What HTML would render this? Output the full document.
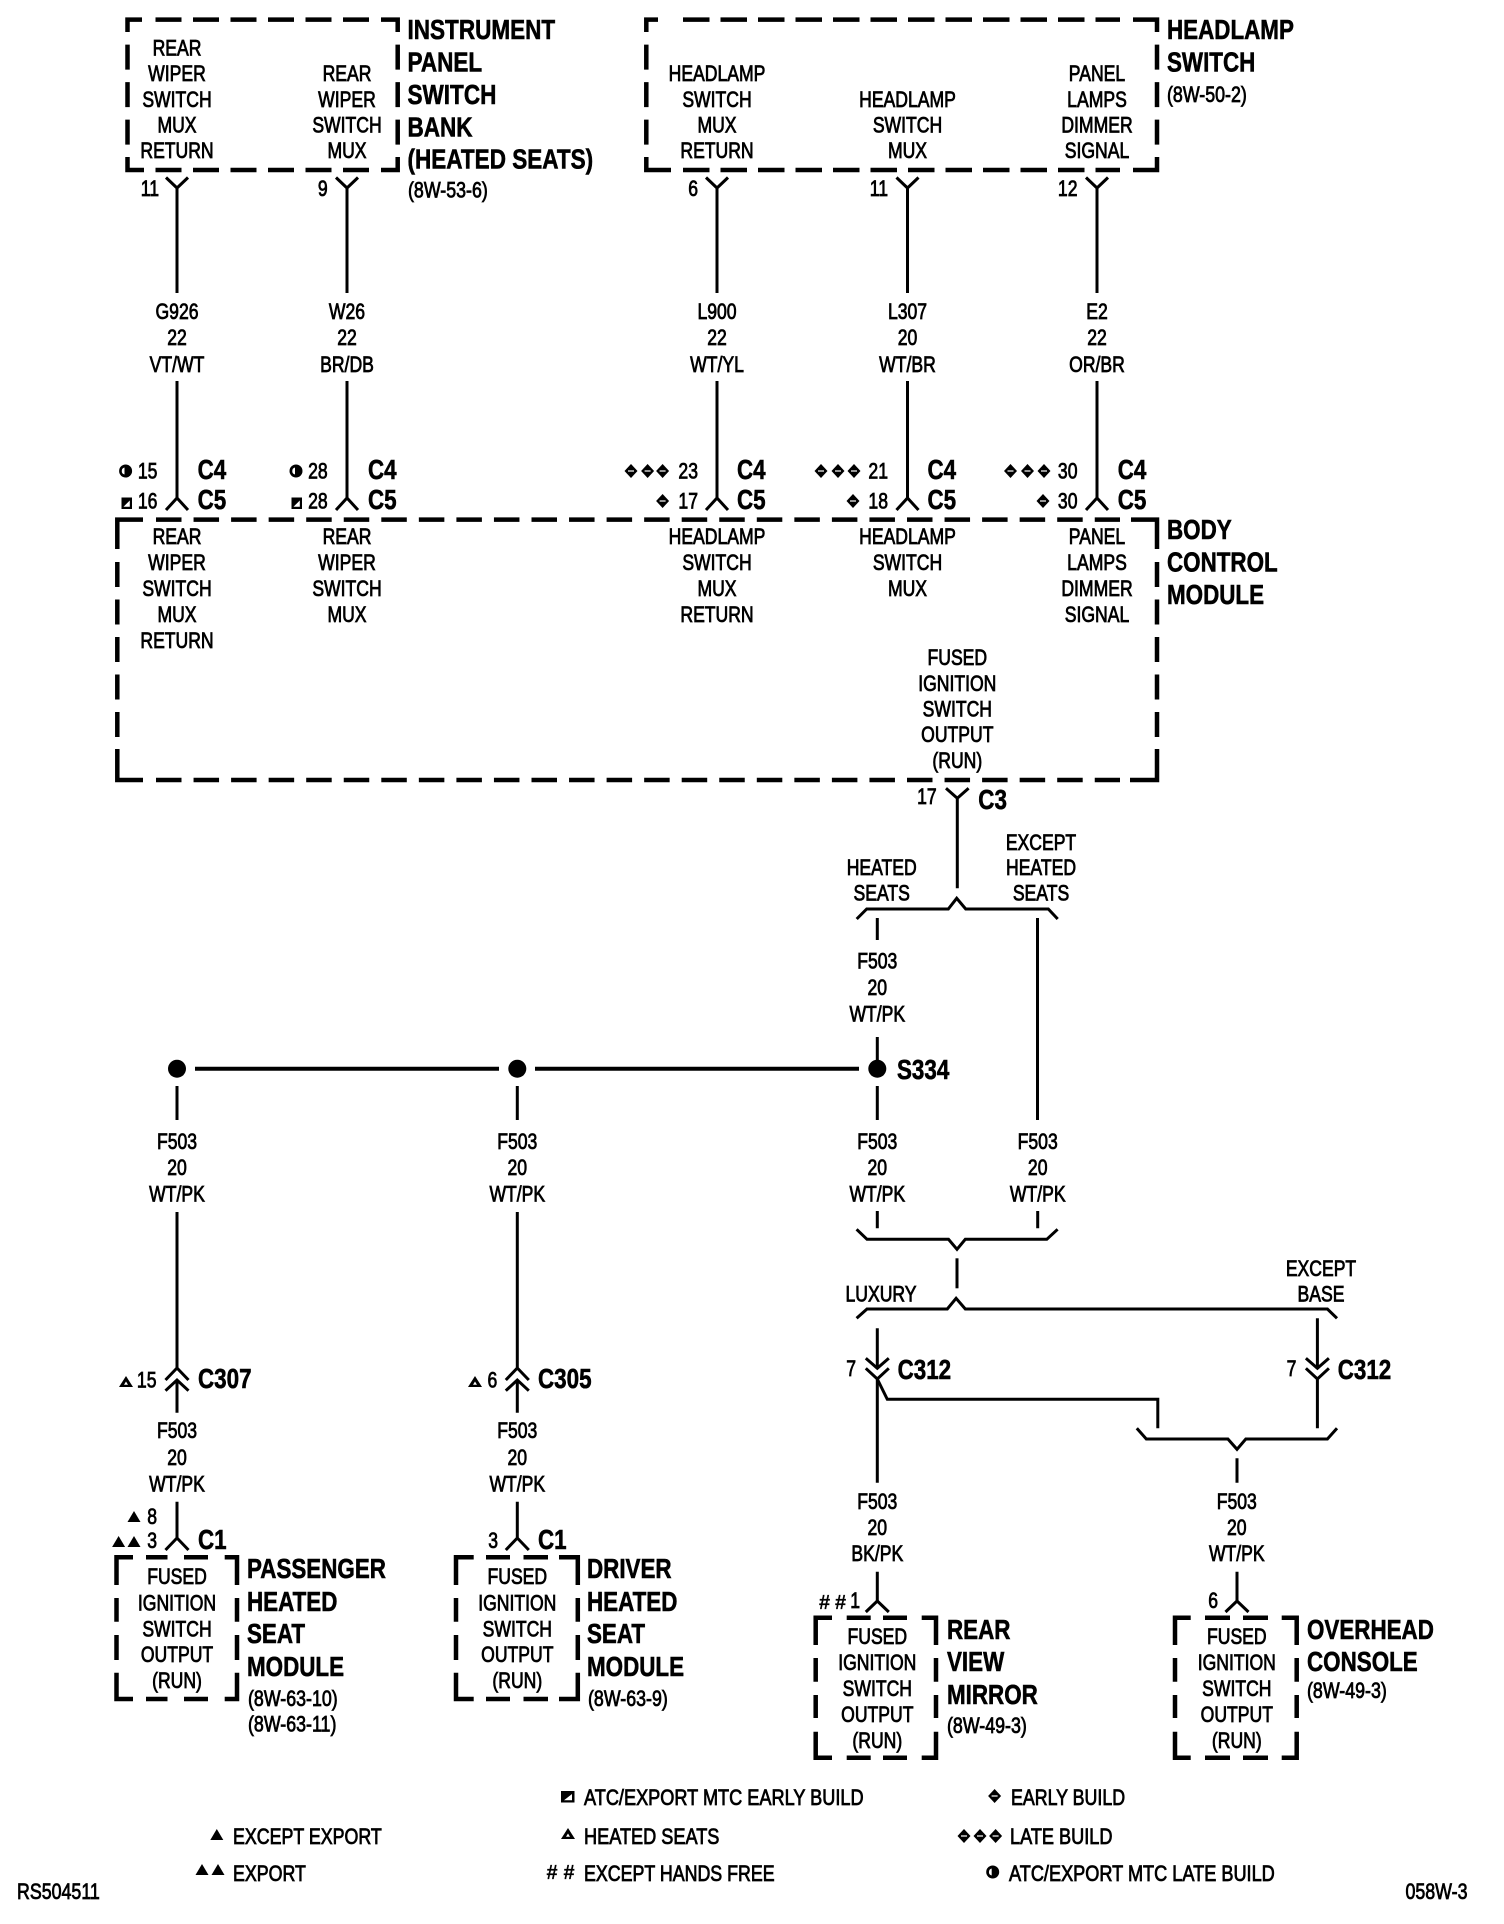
<!DOCTYPE html>
<html><head><meta charset="utf-8"><style>
html,body{margin:0;padding:0;background:#fff}
svg{display:block}
text{font-family:"Liberation Sans",Arial,sans-serif;font-size:22px;fill:#000;stroke:#000;stroke-width:.8}
.b text,text.b{font-size:28px;font-weight:bold;stroke-width:.6}
.m{text-anchor:middle}
.e{text-anchor:end}
.w{fill:none;stroke:#000;stroke-width:3;stroke-linejoin:miter}
.d{fill:none;stroke:#000;stroke-width:4.5}
.f{fill:#000}
.h{fill:#fff}
</style></head><body>
<svg width="1504" height="1924" viewBox="0 0 1504 1924" xmlns="http://www.w3.org/2000/svg">
<rect width="1504" height="1924" fill="#fff"/>

<!-- dashed boxes -->
<g class="d">
<!-- Box 1 -->
<path d="M127.5 32V19.6H142M381 19.6H397.7V32M127.5 157V170H144M381 170H397.7V157"/>
<path d="M155.5 19.6H370" stroke-dasharray="26 11.5"/>
<path d="M155.5 170H370" stroke-dasharray="26 11.5"/>
<path d="M127.5 44.6V150" stroke-dasharray="25 12.5"/>
<path d="M397.7 44.6V150" stroke-dasharray="25 12.5"/>
<!-- Box 2 -->
<path d="M646.3 32V19.6H658M1133 19.6H1157V32M646.3 157V170H671M1133 170H1157V157"/>
<path d="M683 19.6H1120" stroke-dasharray="26.5 11"/>
<path d="M683 170H1120" stroke-dasharray="26.5 11"/>
<path d="M646.3 44.6V150" stroke-dasharray="25 12.5"/>
<path d="M1157 44.6V150" stroke-dasharray="25 12.5"/>
<!-- BCM -->
<path d="M117.3 549V519.6H143M1131 519.6H1157V549M117.3 749V780H143M1130 780H1157V749"/>
<path d="M156 519.6H1120" stroke-dasharray="25.5 12.05"/>
<path d="M156 780H1120" stroke-dasharray="25.5 12.05"/>
<path d="M117.3 562V740" stroke-dasharray="25 12.5"/>
<path d="M1157 562V740" stroke-dasharray="25 12.5"/>
<!-- Passenger -->
<path d="M116.5 1585V1557.3H133M146 1557.3H167.5M184 1557.3H208M224.7 1557.3H237V1585M116.5 1598V1621.7M116.5 1635V1660M116.5 1672.7V1699H133M146 1699H167.5M184 1699H208M224.7 1699H237V1672.7M237 1598V1621.7M237 1635V1660"/>
<!-- Driver -->
<path d="M456 1585V1557.3H473.7M486 1557.3H510M523.5 1557.3H548M559 1557.3H577.8V1585M456 1598V1621.7M456 1635V1660M456 1672.7V1699H473.7M486 1699H510M523.5 1699H548M559 1699H577.8V1672.7M577.8 1598V1621.7M577.8 1635V1660"/>
<!-- Rear view mirror -->
<path d="M815.7 1645V1617.7H832M846.7 1617.7H870.7M883 1617.7H907M921.7 1617.7H936V1645M815.7 1658V1681.7M815.7 1695V1718M815.7 1731.7V1757.7H832M846.7 1757.7H870.7M883 1757.7H907M921.7 1757.7H936V1731.7M936 1658V1681.7M936 1695V1718"/>
<!-- Overhead -->
<path d="M1175 1645V1617.7H1190.7M1205 1617.7H1230M1243 1617.7H1268M1281.7 1617.7H1296.7V1645M1175 1658V1681.7M1175 1695V1718M1175 1731.7V1757.7H1190.7M1205 1757.7H1230M1243 1757.7H1268M1281.7 1757.7H1296.7V1731.7M1296.7 1658V1681.7M1296.7 1695V1718"/>
</g>

<!-- Wires top -->
<g class="w">
<path d="M166 177.5L177 188L188 177.5M177 188V293M177 381V498M166 510L177 498L188 510"/>
<path d="M336 177.5L347 188L358 177.5M347 188V293M347 381V498M336 510L347 498L358 510"/>
<path d="M706 177.5L717 188L728 177.5M717 188V293M717 381V498M706 510L717 498L728 510"/>
<path d="M896.5 177.5L907.5 188L918.5 177.5M907.5 188V293M907.5 381V498M896.5 510L907.5 498L918.5 510"/>
<path d="M1086 177.5L1097 188L1108 177.5M1097 188V293M1097 381V498M1086 510L1097 498L1108 510"/>
<!-- C3 -->
<path d="M946 788.3L957.3 798.3L968.6 788.3M957.3 798.3V888.3"/>
<path d="M856.7 919L866.7 909H948.3L956.7 898.3L965.7 909H1048.3L1057.7 919"/>
<path d="M877.3 918V940M877.3 1037V1060M877.3 1086V1120M1037.5 918V1120"/>
<!-- splice wires -->
<path d="M177 1086V1120M177 1212V1368M177 1381V1412.7M177 1501.7V1538M165.5 1550L177 1538L188.5 1550M165.5 1380L177 1368L188.5 1380M165.5 1390.7L177 1380L188.5 1390.7"/>
<path d="M517.3 1086V1120M517.3 1212V1368M517.3 1381V1412.7M517.3 1501.7V1538M505.8 1550L517.3 1538L528.8 1550M505.8 1380L517.3 1368L528.8 1380M505.8 1390.7L517.3 1380L528.8 1390.7"/>
<!-- lower right -->
<path d="M877.3 1211V1228.3M1037.7 1211V1228.3"/>
<path d="M856.6 1229.3L867 1239.3H948.5L957 1249.3L965.3 1239.3H1046.8L1057.6 1229.3"/>
<path d="M957 1258.3V1288.3"/>
<path d="M856.6 1318.3L867 1309H947.3L956.1 1298.3L965.3 1309H1327.4L1337 1318.3"/>
<path d="M877.3 1328.3V1368M877.3 1379V1482.7M865.8 1358.3L877.3 1368.3L888.8 1358.3M865.8 1368.3L877.3 1379L888.8 1368.3"/>
<path d="M877.3 1379L887.3 1399.3H1157.8V1428.3"/>
<path d="M1317.4 1318.3V1368M1317.4 1379V1428.3M1305.9 1358.3L1317.4 1368.3L1328.9 1358.3M1305.9 1368.3L1317.4 1379L1328.9 1368.3"/>
<path d="M1136.8 1428.3L1146.3 1439H1227.9L1237 1449.3L1245.8 1439H1327.4L1337 1428.3"/>
<path d="M1237 1458.3V1482.7M877.3 1571.7V1601M1237 1571.7V1601"/>
<path d="M865.8 1612L877.3 1601L888.8 1612M1225.5 1612L1237 1601L1248.5 1612"/>
</g>
<path d="M195 1068.7H499M535 1068.7H859" stroke="#000" stroke-width="4" fill="none"/>
<circle class="f" cx="177" cy="1068.7" r="9"/><circle class="f" cx="517.3" cy="1068.7" r="9"/><circle class="f" cx="877.3" cy="1068.7" r="9"/>

<!-- Center labels -->
<g class="m">
<g transform="translate(177 0) scale(.8 1)"><text y="55.5">REAR</text><text y="81.2">WIPER</text><text y="107">SWITCH</text><text y="132.5">MUX</text><text y="158">RETURN</text><text y="319">G926</text><text y="345">22</text><text y="372">VT/WT</text><text y="544">REAR</text><text y="570">WIPER</text><text y="596">SWITCH</text><text y="622">MUX</text><text y="648">RETURN</text><text y="1149">F503</text><text y="1175">20</text><text y="1201.7">WT/PK</text><text y="1438">F503</text><text y="1465">20</text><text y="1491.7">WT/PK</text><text y="1584">FUSED</text><text y="1610.7">IGNITION</text><text y="1636.7">SWITCH</text><text y="1662">OUTPUT</text><text y="1688">(RUN)</text></g>
<g transform="translate(347 0) scale(.8 1)"><text y="81.2">REAR</text><text y="107">WIPER</text><text y="132.5">SWITCH</text><text y="158">MUX</text><text y="319">W26</text><text y="345">22</text><text y="372">BR/DB</text><text y="544">REAR</text><text y="570">WIPER</text><text y="596">SWITCH</text><text y="622">MUX</text></g>
<g transform="translate(717 0) scale(.8 1)"><text y="81.2">HEADLAMP</text><text y="107">SWITCH</text><text y="132.5">MUX</text><text y="158">RETURN</text><text y="319">L900</text><text y="345">22</text><text y="372">WT/YL</text><text y="544">HEADLAMP</text><text y="570">SWITCH</text><text y="596">MUX</text><text y="622">RETURN</text></g>
<g transform="translate(907.5 0) scale(.8 1)"><text y="107">HEADLAMP</text><text y="132.5">SWITCH</text><text y="158">MUX</text><text y="319">L307</text><text y="345">20</text><text y="372">WT/BR</text><text y="544">HEADLAMP</text><text y="570">SWITCH</text><text y="596">MUX</text></g>
<g transform="translate(1097 0) scale(.8 1)"><text y="81.2">PANEL</text><text y="107">LAMPS</text><text y="132.5">DIMMER</text><text y="158">SIGNAL</text><text y="319">E2</text><text y="345">22</text><text y="372">OR/BR</text><text y="544">PANEL</text><text y="570">LAMPS</text><text y="596">DIMMER</text><text y="622">SIGNAL</text></g>
<g transform="translate(957.3 0) scale(.8 1)"><text y="665">FUSED</text><text y="690.8">IGNITION</text><text y="716.5">SWITCH</text><text y="742.2">OUTPUT</text><text y="768">(RUN)</text></g>
<g transform="translate(881.7 0) scale(.8 1)"><text y="875">HEATED</text><text y="900.7">SEATS</text></g>
<g transform="translate(1041 0) scale(.8 1)"><text y="850">EXCEPT</text><text y="875">HEATED</text><text y="900.7">SEATS</text></g>
<g transform="translate(877.3 0) scale(.8 1)"><text y="968.7">F503</text><text y="995">20</text><text y="1021.5">WT/PK</text><text y="1149">F503</text><text y="1175">20</text><text y="1201.7">WT/PK</text><text y="1509">F503</text><text y="1535">20</text><text y="1561">BK/PK</text><text y="1644">FUSED</text><text y="1670">IGNITION</text><text y="1696">SWITCH</text><text y="1722">OUTPUT</text><text y="1748">(RUN)</text></g>
<g transform="translate(1037.7 0) scale(.8 1)"><text y="1149">F503</text><text y="1175">20</text><text y="1201.7">WT/PK</text></g>
<g transform="translate(517.3 0) scale(.8 1)"><text y="1149">F503</text><text y="1175">20</text><text y="1201.7">WT/PK</text><text y="1438">F503</text><text y="1465">20</text><text y="1491.7">WT/PK</text><text y="1584">FUSED</text><text y="1610.7">IGNITION</text><text y="1636.7">SWITCH</text><text y="1662">OUTPUT</text><text y="1688">(RUN)</text></g>
<g transform="translate(881 0) scale(.8 1)"><text y="1301.7">LUXURY</text></g>
<g transform="translate(1321 0) scale(.8 1)"><text y="1276">EXCEPT</text><text y="1301.7">BASE</text></g>
<g transform="translate(1236.8 0) scale(.8 1)"><text y="1509">F503</text><text y="1535">20</text><text y="1561">WT/PK</text><text y="1644">FUSED</text><text y="1670">IGNITION</text><text y="1696">SWITCH</text><text y="1722">OUTPUT</text><text y="1748">(RUN)</text></g>
</g>

<!-- Pin numbers -->
<g class="e">
<text transform="translate(159 196) scale(.8 1)">11</text>
<text transform="translate(327.7 196) scale(.8 1)">9</text>
<text transform="translate(698 196) scale(.8 1)">6</text>
<text transform="translate(888 196) scale(.8 1)">11</text>
<text transform="translate(1077.5 196) scale(.8 1)">12</text>
<text transform="translate(157.4 478.6) scale(.8 1)">15</text>
<text transform="translate(157.4 508.5) scale(.8 1)">16</text>
<text transform="translate(327.7 478.6) scale(.8 1)">28</text>
<text transform="translate(327.7 508.5) scale(.8 1)">28</text>
<text transform="translate(698 478.6) scale(.8 1)">23</text>
<text transform="translate(698 508.5) scale(.8 1)">17</text>
<text transform="translate(888 478.6) scale(.8 1)">21</text>
<text transform="translate(888 508.5) scale(.8 1)">18</text>
<text transform="translate(1077.5 478.6) scale(.8 1)">30</text>
<text transform="translate(1077.5 508.5) scale(.8 1)">30</text>
<text transform="translate(936.7 804) scale(.8 1)">17</text>
<text transform="translate(156.5 1387.7) scale(.8 1)">15</text>
<text transform="translate(497.3 1387.7) scale(.8 1)">6</text>
<text transform="translate(157 1524) scale(.8 1)">8</text>
<text transform="translate(157 1548) scale(.8 1)">3</text>
<text transform="translate(498 1548) scale(.8 1)">3</text>
<text transform="translate(856 1376) scale(.8 1)">7</text>
<text transform="translate(1296.4 1376) scale(.8 1)">7</text>
<text transform="translate(860 1608) scale(.8 1)">1</text>
<text transform="translate(1218 1608) scale(.8 1)">6</text>
</g>

<!-- Bold titles and connectors -->
<g class="b">
<g transform="translate(407.5 0) scale(.805 1)"><text y="39">INSTRUMENT</text><text y="71.4">PANEL</text><text y="104">SWITCH</text><text y="136.4">BANK</text><text y="168.6">(HEATED SEATS)</text></g>
<g transform="translate(1167 0) scale(.8 1)"><text y="39">HEADLAMP</text><text y="71.4">SWITCH</text><text y="539">BODY</text><text y="571.5">CONTROL</text><text y="604">MODULE</text></g>
<g transform="translate(197.6 0) scale(.8 1)"><text y="479">C4</text><text y="509">C5</text></g>
<g transform="translate(368 0) scale(.8 1)"><text y="479">C4</text><text y="509">C5</text></g>
<g transform="translate(737 0) scale(.8 1)"><text y="479">C4</text><text y="509">C5</text></g>
<g transform="translate(927.5 0) scale(.8 1)"><text y="479">C4</text><text y="509">C5</text></g>
<g transform="translate(1117.7 0) scale(.8 1)"><text y="479">C4</text><text y="509">C5</text></g>
<text transform="translate(978.3 809) scale(.8 1)">C3</text>
<text transform="translate(897 1079) scale(.8 1)">S334</text>
<text transform="translate(198 1388) scale(.8 1)">C307</text>
<text transform="translate(538 1388) scale(.8 1)">C305</text>
<text transform="translate(198 1549) scale(.8 1)">C1</text>
<text transform="translate(538 1549) scale(.8 1)">C1</text>
<text transform="translate(897.6 1379) scale(.8 1)">C312</text>
<text transform="translate(1337.7 1379) scale(.8 1)">C312</text>
<g transform="translate(247 0) scale(.8 1)"><text y="1578">PASSENGER</text><text y="1611">HEATED</text><text y="1643">SEAT</text><text y="1676">MODULE</text></g>
<g transform="translate(587 0) scale(.8 1)"><text y="1578">DRIVER</text><text y="1611">HEATED</text><text y="1643">SEAT</text><text y="1676">MODULE</text></g>
<g transform="translate(947 0) scale(.8 1)"><text y="1639">REAR</text><text y="1671">VIEW</text><text y="1704">MIRROR</text></g>
<g transform="translate(1307 0) scale(.8 1)"><text y="1639">OVERHEAD</text><text y="1671">CONSOLE</text></g>
</g>

<!-- References -->
<text transform="translate(408 197.5) scale(.81 1)">(8W-53-6)</text>
<text transform="translate(1167 102) scale(.81 1)">(8W-50-2)</text>
<text transform="translate(248 1706) scale(.81 1)">(8W-63-10)</text>
<text transform="translate(248 1731.7) scale(.81 1)">(8W-63-11)</text>
<text transform="translate(588 1706) scale(.81 1)">(8W-63-9)</text>
<text transform="translate(947 1733) scale(.81 1)">(8W-49-3)</text>
<text transform="translate(1307 1698) scale(.81 1)">(8W-49-3)</text>

<!-- Symbols: half circles -->
<g>
<circle class="f" cx="125.6" cy="471" r="6.5"/><path class="h" d="M124.5 467.5A3.6 3.6 0 0 0 124.5 474.5Z"/>
<circle class="f" cx="296" cy="471" r="6.5"/><path class="h" d="M295 467.5A3.6 3.6 0 0 0 295 474.5Z"/>
<circle class="f" cx="992.7" cy="1872" r="6.5"/><path class="h" d="M991.7 1868.5A3.6 3.6 0 0 0 991.7 1875.5Z"/>
<!-- squares -->
<rect class="f" x="121.5" y="497.5" width="10.5" height="11.5"/><path class="h" d="M129.8 500.5V506.8H123.5Z"/>
<rect class="f" x="291.5" y="497.5" width="10.5" height="11.5"/><path class="h" d="M299.8 500.5V506.8H293.5Z"/>
<rect class="f" x="561" y="1791" width="13.5" height="11.5"/><path class="h" d="M572 1794V1800.3H564Z"/>
</g>
<!-- diamonds -->
<defs><g id="dm"><path class="f" d="M0 -7L6.5 0L0 7L-6.5 0Z"/><rect class="h" x="-3" y="-.6" width="6" height="1.2"/></g></defs>
<use href="#dm" x="631" y="471"/><use href="#dm" x="647.6" y="471"/><use href="#dm" x="662.6" y="471"/><use href="#dm" x="662.6" y="501"/>
<use href="#dm" x="821" y="471"/><use href="#dm" x="838" y="471"/><use href="#dm" x="854" y="471"/><use href="#dm" x="853" y="501"/>
<use href="#dm" x="1010.5" y="471"/><use href="#dm" x="1027.5" y="471"/><use href="#dm" x="1044" y="471"/><use href="#dm" x="1043" y="501"/>
<use href="#dm" x="994.6" y="1796"/><use href="#dm" x="964" y="1836"/><use href="#dm" x="980" y="1836"/><use href="#dm" x="995.6" y="1836"/>
<!-- triangles -->
<defs>
<path id="tf" class="f" d="M0 -6L6.5 5H-6.5Z"/>
<g id="to"><path class="f" d="M0 -6L7 5H-7Z"/><path class="h" d="M0 -.5L2 2.8H-2Z"/></g>
</defs>
<use href="#to" x="126" y="1382"/><use href="#to" x="475" y="1382"/><use href="#to" x="568" y="1834"/>
<use href="#tf" x="134" y="1517"/><use href="#tf" x="118.6" y="1542"/><use href="#tf" x="134" y="1542"/>
<use href="#tf" x="216.8" y="1835"/><use href="#tf" x="202" y="1870"/><use href="#tf" x="218" y="1870"/>

<g style="text-anchor:middle">
<text style="font-size:20px;font-weight:bold;stroke-width:.2" x="824.5" y="1609">#</text>
<text style="font-size:20px;font-weight:bold;stroke-width:.2" x="840.5" y="1609">#</text>
<text style="font-size:20px;font-weight:bold;stroke-width:.2" x="552" y="1879">#</text>
<text style="font-size:20px;font-weight:bold;stroke-width:.2" x="569" y="1879">#</text>
</g>

<!-- Legend -->
<text transform="translate(584 1805) scale(.825 1)">ATC/EXPORT MTC EARLY BUILD</text>
<text transform="translate(584 1844) scale(.825 1)">HEATED SEATS</text>
<text transform="translate(584 1881) scale(.81 1)">EXCEPT HANDS FREE</text>
<text transform="translate(233 1844) scale(.81 1)">EXCEPT EXPORT</text>
<text transform="translate(233 1881) scale(.81 1)">EXPORT</text>
<text transform="translate(1011 1805) scale(.81 1)">EARLY BUILD</text>
<text transform="translate(1010 1844) scale(.825 1)">LATE BUILD</text>
<text transform="translate(1009 1881) scale(.825 1)">ATC/EXPORT MTC LATE BUILD</text>
<text transform="translate(17 1899) scale(.81 1)">RS504511</text>
<text class="e" transform="translate(1467.5 1899) scale(.81 1)">058W-3</text>
</svg>
</body></html>
